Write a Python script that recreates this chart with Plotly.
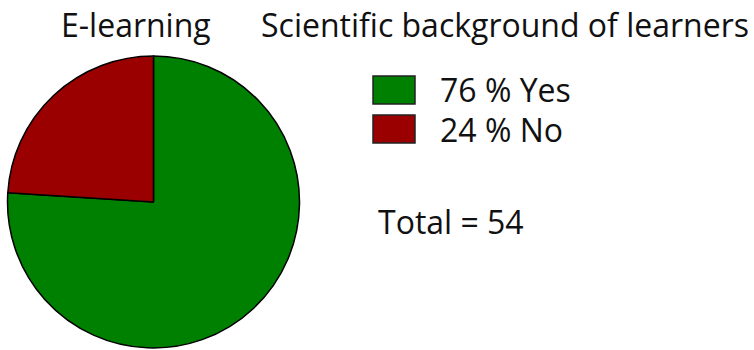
import plotly.graph_objects as go

# Scientific background of e-learning participants
labels = ["Yes", "No"]
percents = [76, 24]
colors = ["#008000", "#9a0000"]
total = 54
left_title = "E-learning"
right_title = "Scientific background of learners"

W, H = 754, 350
FONT = "Open Sans"
SIZE = 32

fig = go.Figure(
    go.Pie(
        labels=labels,
        values=percents,
        sort=False,
        direction="clockwise",
        rotation=0,
        textinfo="none",
        hoverinfo="label+percent",
        marker=dict(colors=colors, line=dict(color="#000000", width=1.5)),
        domain=dict(x=[6 / W, 301 / W], y=[2 / H, 294 / H]),
        showlegend=False,
    )
)

annotations = [
    dict(text=left_title, x=136 / W, y=1 - 24 / H, xanchor="center", yanchor="middle"),
    dict(text=right_title, x=505 / W, y=1 - 24 / H, xanchor="center", yanchor="middle"),
    dict(text=f"Total = {total}", x=376 / W, y=1 - 222 / H, xanchor="left", yanchor="middle"),
]

shapes = []
row_y = [90, 129]
for lab, pct, col, yc in zip(labels, percents, colors, row_y):
    shapes.append(dict(type="rect", xref="paper", yref="paper",
                       x0=373 / W, x1=415 / W, y0=1 - (yc + 14) / H, y1=1 - (yc - 14) / H,
                       fillcolor=col, line=dict(color="#222222", width=1.5)))
    annotations.append(dict(text=f"{pct} % {lab}", x=438 / W, y=1 - yc / H,
                            xanchor="left", yanchor="middle"))

for a in annotations:
    a.update(xref="paper", yref="paper", showarrow=False, font=dict(size=SIZE))

fig.update_layout(
    width=W, height=H,
    margin=dict(l=0, r=0, t=0, b=0),
    paper_bgcolor="white", plot_bgcolor="white",
    font=dict(family=FONT, color="#111111"),
    annotations=annotations,
    shapes=shapes,
)

fig.write_html("out.html")
